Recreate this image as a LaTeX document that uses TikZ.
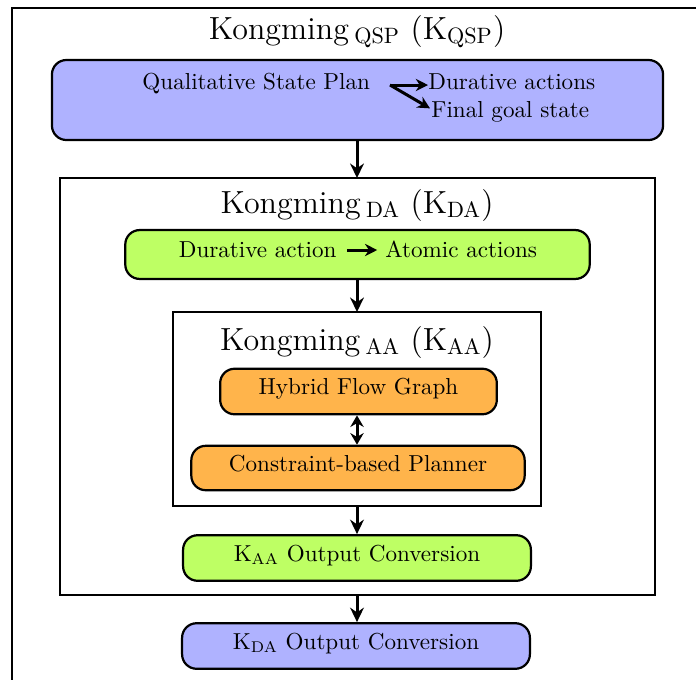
\documentclass[tikz,border=0pt]{standalone}
\usetikzlibrary{arrows.meta}
\definecolor{qspblue}{RGB}{175,178,255}
\definecolor{dagreen}{RGB}{190,255,100}
\definecolor{aaorange}{RGB}{255,180,75}
\newcommand{\bodyfont}{\fontsize{10.4}{12}\selectfont}
\newcommand{\titlefont}{\fontsize{14.4}{17}\selectfont}
\begin{document}
\begin{tikzpicture}[x=0.45pt,y=-0.45pt,
  frame/.style={draw, line width=1pt},
  title/.style={font=\titlefont, anchor=base, inner sep=0pt},
  box/.style={draw, line width=1pt, rounded corners=6.5pt, font=\bodyfont,
    text height=7pt, text depth=4.3pt, inner sep=0pt},
  txt/.style={font=\bodyfont, inner sep=0pt, anchor=base west},
  flow/.style={line width=1.35pt, -{Stealth[length=6.5pt,width=6.2pt]}},
  flowboth/.style={line width=1.35pt, {Stealth[length=5.2pt,width=6pt]}-{Stealth[length=5.2pt,width=6pt]}},
  inline/.style={line width=1.35pt, -{Stealth[length=5.5pt,width=5.5pt]}}
]
\useasboundingbox (0,0) rectangle (696,679);

% outer QSP frame (runs past the page edges)
\draw[frame] (12,8) rectangle (730,720);
\node[title] (tqsp) at (357,39) {Kongming\,${}_{\mathrm{QSP}}$ (K$_{\mathrm{QSP}}$)};

% qualitative state plan box
\node[box, fill=qspblue, minimum width=275pt, minimum height=36pt] (qsp) at (357.5,100) {};
\node[txt] (qsptext) at (142,89) {Qualitative State Plan};
\node[txt] (dur) at (428,89) {Durative actions};
\node[txt] (goal) at (431,117) {Final goal state};
\coordinate (fork) at (390,85);
\draw[inline] (fork) -- (dur.west |- fork);
\draw[inline] (fork) -- ([shift={(-1,-3)}]goal.west);

% DA frame
\draw[frame] (60,178) rectangle (655,595);
\coordinate (datop) at (357,178);
\coordinate (dabot) at (357,595);
\node[title] (tda) at (357,213) {Kongming\,${}_{\mathrm{DA}}$ (K$_{\mathrm{DA}}$)};

\node[box, fill=dagreen, minimum width=209pt, minimum height=22pt] (da) at (357.5,254.5) {};
\node[txt, anchor=base east] (datext) at (337,257) {Durative action};
\node[txt] (atomic) at (385,257) {Atomic actions};
\draw[inline] ([xshift=4.5pt]datext.east |- 0,250) -- ([xshift=-3.5pt]atomic.west |- 0,250);

% AA frame
\draw[frame] (173,312) rectangle (541,506);
\coordinate (aatop) at (357,312);
\coordinate (aabot) at (357,506);
\node[title] (taa) at (357,350) {Kongming\,${}_{\mathrm{AA}}$ (K$_{\mathrm{AA}}$)};

\node[box, fill=aaorange, minimum width=124.5pt, minimum height=20.5pt] (hfg) at (358.5,391.5) {Hybrid Flow Graph};
\node[box, fill=aaorange, minimum width=150pt, minimum height=20pt] (cbp) at (358,468) {Constraint-based Planner};

\node[box, fill=dagreen, minimum width=156.5pt, minimum height=20.5pt] (kaa) at (357,558) {K$_{\mathrm{AA}}$ Output Conversion};
\node[box, fill=qspblue, minimum width=156.5pt, minimum height=20.5pt] (kda) at (356,646) {K$_{\mathrm{DA}}$ Output Conversion};

% connectors
\draw[flow] (qsp.south -| datop) -- (datop);
\draw[flow] (da.south -| aatop) -- (aatop);
\draw[flowboth] (hfg.south -| aatop) -- (cbp.north -| aatop);
\draw[flow] (aabot) -- (kaa.north -| aabot);
\draw[flow] (dabot) -- (kda.north -| dabot);
\end{tikzpicture}
\end{document}
